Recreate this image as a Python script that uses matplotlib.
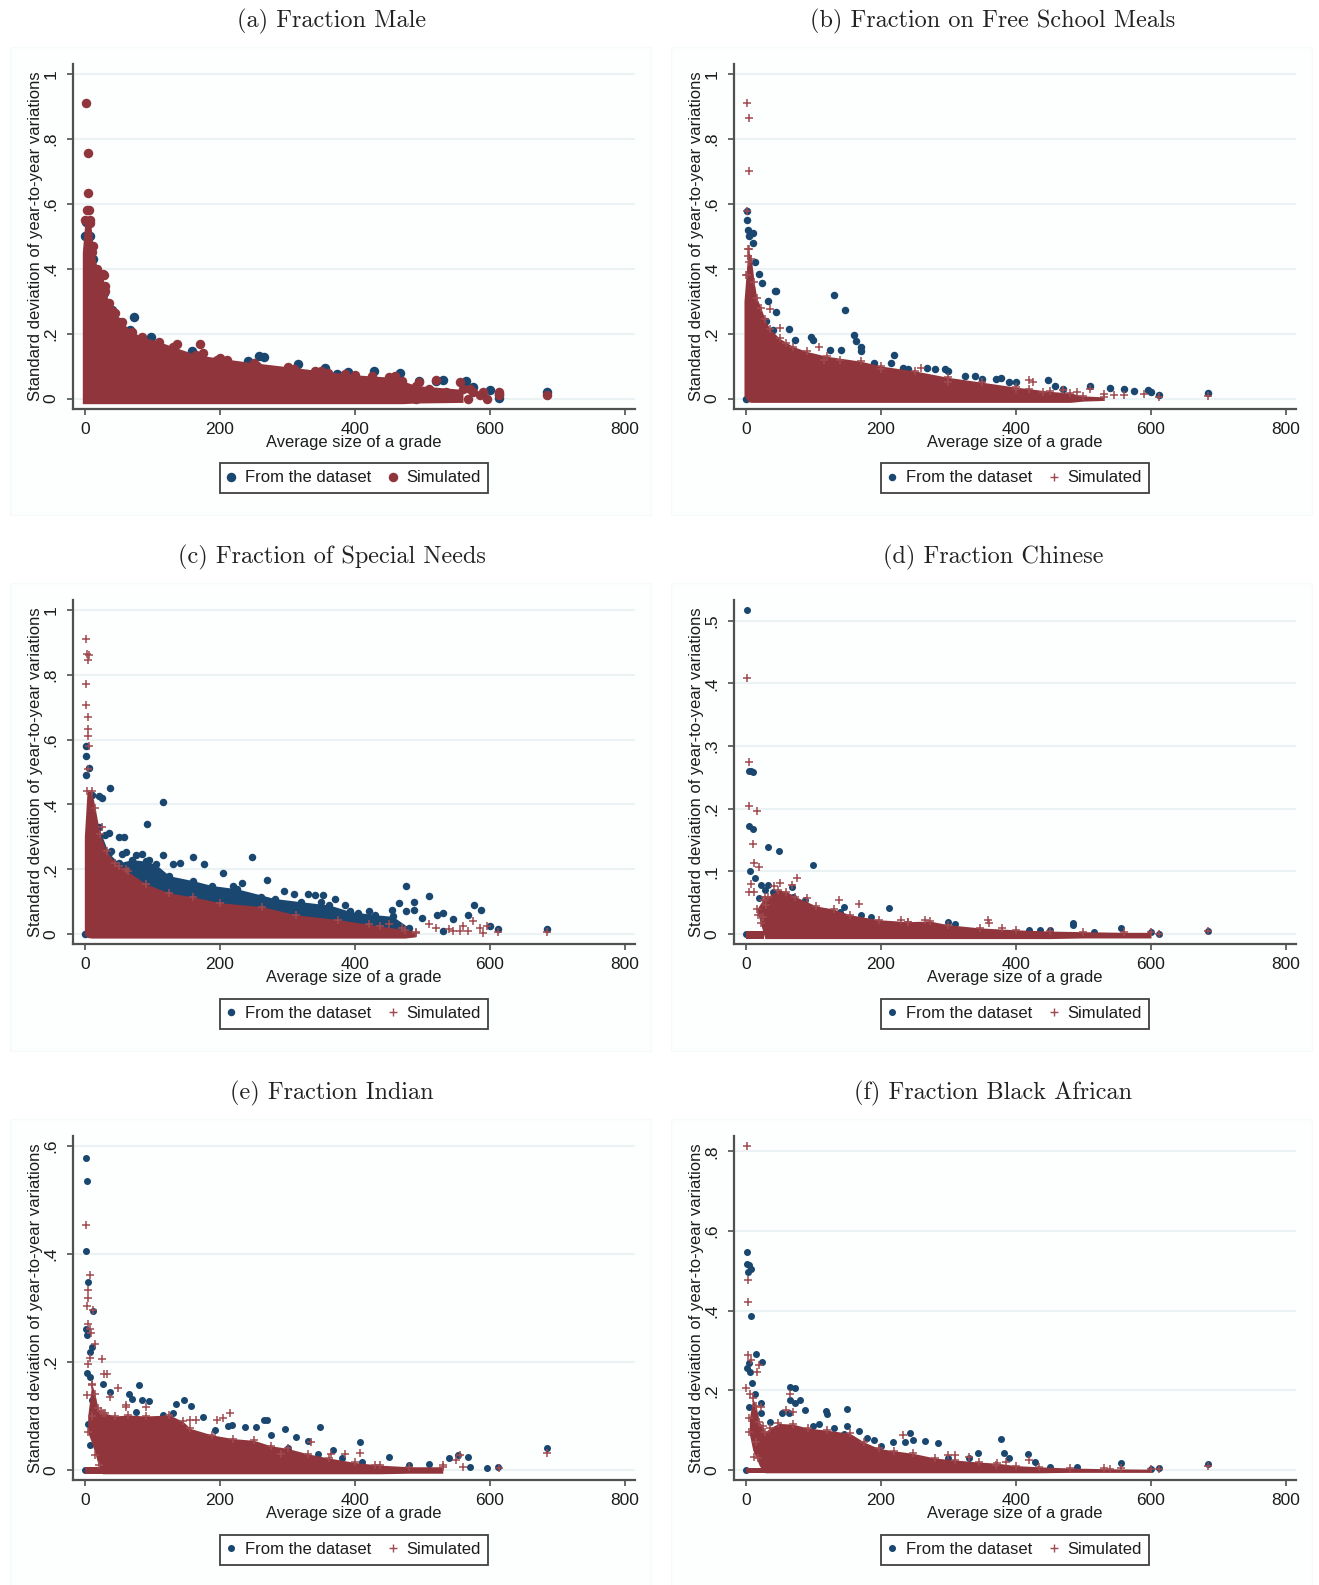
import matplotlib
matplotlib.use("Agg")
import matplotlib.pyplot as plt
from matplotlib.lines import Line2D
from matplotlib.patches import Rectangle

W, H = 1319, 1585
NAVY = "#1a476f"
MAROON = "#90353b"
GRID = "#eaf2f3"
plt.rcParams["font.family"] = ["Liberation Sans", "DejaVu Sans"]
plt.rcParams["axes.unicode_minus"] = False

titles = ["(a) Fraction Male", "(b) Fraction on Free School Meals", "(c) Fraction of Special Needs",
          "(d) Fraction Chinese", "(e) Fraction Indian", "(f) Fraction Black African"]
x_ticks = [0, 200, 400, 600, 800]
ticks_10 = [0, .2, .4, .6, .8, 1]
labels_10 = ["0", ".2", ".4", ".6", ".8", "1"]
ticks_d = [0, .1, .2, .3, .4, .5]
labels_d = ["0", ".1", ".2", ".3", ".4", ".5"]
ticks_e = [0, .2, .4, .6]
labels_e = ["0", ".2", ".4", ".6"]
ticks_f = [0, .2, .4, .6, .8]
labels_f = ["0", ".2", ".4", ".6", ".8"]

# (x, y)
a_blue = [(72,.25),(258,.131),(265,.127),(316,.107),(355,.094),(373,.074),(390,.082),(428,.086),(466,.078),
          (530,.057),(565,.054),(600,.027),(614,.003),(614,.015),(685,.02),(242,.117),(158,.146),(98,.19),
          (66,.21),(50,.237),(40,.273),(28,.324),(12,.43),(8,.50),(2,.545),(0,.5),(520,.055),(495,.055),(575,.035)]
a_red = [(2,.91),(4,.757),(4,.633),(3,.58),(6,.58),(137,.167),(170,.168),(175,.14),(10,.453),(7,.54),(28,.38),
         (30,.347),(40,.27),(196,.12),(210,.12),(255,.1),(310,.09),(340,.085),(360,.08),(385,.075),(425,.07),
         (460,.07),(495,.05),(520,.057),(555,.05),(570,.03),(590,.02),(614,.02),(685,.012),(614,.01),(568,0),
         (595,0),(490,0),(480,.02),(510,.03),(535,.02),(550,.01),(575,.02),(585,.01)]
# (x, top, bottom) of the solid part of the cloud
a_mass = [(-4,.45,-.016),(0,.55,-.016),(8,.55,-.016),(12,.47,-.016),(18,.40,-.016),(26,.385,-.016),(30,.33,-.016),
          (36,.295,-.016),(45,.265,-.016),(55,.235,-.016),(70,.205,-.016),(85,.19,-.016),(110,.175,-.016),
          (130,.16,-.016),(165,.135,-.016),(200,.124,-.016),(250,.11,-.016),(300,.098,-.016),(350,.085,-.016),
          (400,.073,-.016),(450,.066,-.016),(470,.055,-.016),(490,.04,-.014),(560,.028,-.012)]

b_blue = [(43,.332),(44,.33),(130,.32),(146,.273),(160,.195),(163,.177),(44,.267),(2,.577),(2,.55),(3,.52),(5,.5),
          (10,.51),(10,.48),(14,.42),(20,.384),(23,.355),(33,.30),(30,.24),(40,.21),(64,.213),(96,.19),(100,.18),
          (72,.18),(125,.15),(141,.148),(170,.145),(220,.135),(215,.11),(190,.11),(232,.095),(240,.09),(268,.094),
          (280,.09),(295,.09),(300,.085),(325,.068),(340,.068),(350,.06),(370,.06),(378,.062),(390,.05),(400,.05),
          (447,.057),(458,.04),(470,.03),(510,.037),(540,.033),(560,.028),(575,.022),(595,.025),(600,.02),(612,.012),
          (685,.016),(170,.16),(0,0)]
b_red = [(2,.91),(4,.865),(4,.70),(2,.577),(108,.158),(50,.217),(35,.275),(260,.093),(420,.057),(425,.05),(510,.03),
         (545,.01),(612,.005),(685,.008),(5,.46),(3,.44),(5,.42),(2,.38),(60,.17),(115,.12),(140,.12),(200,.09),
         (300,.05),(400,.03),(440,.02),(470,.025),(490,.02),(530,.015),(560,.01),(590,.015)]
b_mass = [(-3,.30,.01),(0,.38,.0),(3,.46,-.01),(8,.43,-.012),(12,.36,-.012),(16,.31,-.012),(22,.28,-.012),(28,.245,-.012),
          (35,.215,-.012),(50,.185,-.012),(70,.16,-.012),(90,.145,-.012),(120,.13,-.012),(170,.115,-.012),(200,.10,-.012),
          (250,.085,-.012),(300,.065,-.012),(350,.05,-.012),(400,.035,-.012),(420,.03,-.012),(450,.022,-.012),
          (480,.017,-.012),(500,.008,-.008),(530,.005,-.006)]

c_blue = [(37,.451),(116,.407),(92,.341),(35,.312),(50,.299),(58,.30),(247,.238),(476,.148),(510,.119),(577,.091),
          (586,.076),(488,.099),(270,.168),(205,.189),(177,.215),(160,.237),(140,.22),(130,.217),(115,.243),(85,.247),
          (60,.254),(55,.248),(75,.245),(95,.23),(2,.58),(1,.548),(6,.512),(1,.49),(20,.425),(10,.43),(25,.42),
          (30,.307),(38,.256),(295,.132),(310,.124),(330,.124),(340,.12),(352,.12),(370,.107),(385,.091),(420,.071),
          (405,.066),(465,.096),(455,.076),(475,.073),(488,.076),(530,.066),(522,.06),(568,.06),(545,.048),(600,.025),
          (612,.016),(685,.016),(500,.05),(530,.01),(232,.158),(220,.15),(300,.09),(260,.115),(350,.10),(250,.11),(0,0)]
c_red = [(2,.91),(3,.865),(6,.86),(5,.845),(2,.77),(2,.705),(5,.67),(4,.633),(4,.61),(6,.58),(4,.51),(25,.33),
         (50,.21),(60,.2),(490,.005),(510,.03),(575,.04),(560,.025),(595,.025),(585,.02),(612,.008),(685,.008),
         (520,.02),(545,.01),(555,.01),(568,.01),(590,.005),(540,.015),(470,.02),(420,.03),(450,.03)]
c_bluemass = [(20,.33),(35,.25),(50,.22),(70,.23),(90,.225),(105,.215),(125,.18),(160,.165),(188,.15),(225,.14),
              (281,.11),(320,.10),(362,.09),(393,.07),(430,.06),(456,.055),(480,.02)]
c_mass = [(-1,.3,.0),(3,.44,-.01),(10,.44,-.012),(15,.39,-.012),(22,.31,-.012),(32,.255,-.012),(45,.22,-.012),
          (63,.194,-.012),(90,.155,-.012),(125,.127,-.012),(160,.115,-.012),(200,.097,-.012),(262,.085,-.012),
          (312,.06,-.012),(375,.045,-.012),(437,.025,-.012),(474,.014,-.012),(490,.008,-.008)]

d_blue = [(1,.517),(5,.26),(7,.26),(11,.259),(4,.173),(10,.167),(33,.139),(49,.132),(100,.111),(6,.1),(14,.09),
          (22,.078),(32,.078),(40,.068),(68,.076),(70,.06),(88,.055),(20,.058),(212,.041),(145,.043),(140,.035),
          (170,.03),(185,.028),(300,.019),(310,.016),(484,.018),(485,.014),(555,.01),(0,0),(600,.004),(612,0),
          (685,.005),(420,.006),(435,.007),(450,.006),(515,.004),(28,.07)]
d_red = [(1,.408),(4,.274),(4,.204),(16,.196),(10,.144),(12,.114),(20,.107),(8,.08),(4,.067),(12,.068),(50,.082),
         (75,.09),(42,.077),(68,.078),(138,.055),(167,.048),(90,.057),(358,.023),(360,.018),(265,.023),(240,.02),
         (230,.022),(684,.005),(612,0),(16,.04),(22,.018),(380,.01),(18,.03),(25,.027),(30,.047)]
d_mass = [(16,.04,.038),(25,.055,.004),(28,.06,-.007),(32,.06,-.007),(48,.071,-.007),(60,.068,-.007),(73,.06,-.007),
          (104,.045,-.007),(130,.04,-.007),(154,.031,-.007),(197,.023,-.007),(240,.02,-.007),(272,.021,-.007),
          (300,.015,-.007),(347,.01,-.007),(400,.007,-.007),(450,.005,-.007),(500,.004,-.006),(560,.003,-.006),
          (600,.003,-.006)]
d_strip = 27

e_blue = [(1,.578),(3,.535),(2,.405),(5,.349),(12,.295),(1,.262),(3,.25),(10,.228),(8,.219),(3,.179),(8,.173),(26,.159),
          (80,.157),(37,.144),(65,.14),(70,.131),(85,.13),(95,.128),(135,.122),(147,.129),(157,.118),(175,.099),
          (115,.102),(130,.105),(75,.108),(297,.076),(348,.079),(270,.093),(265,.092),(218,.083),(212,.082),(193,.074),
          (237,.08),(253,.08),(408,.052),(312,.062),(330,.054),(275,.065),(368,.037),(450,.025),(410,.015),(540,.023),
          (552,.028),(567,.025),(685,.04),(510,.012),(345,.03),(480,.01),(612,.005),(5,.086),(8,.046),(0,0),(300,.04),
          (250,.045),(380,.022),(570,.005),(595,.003),(10,.13)]
e_red = [(1,.454),(7,.361),(4,.333),(5,.318),(3,.304),(12,.296),(5,.27),(8,.262),(9,.253),(15,.234),(25,.205),(8,.207),
         (4,.196),(28,.178),(32,.178),(49,.151),(37,.136),(10,.157),(3,.139),(215,.106),(195,.093),(205,.097),(685,.032),
         (408,.032),(335,.052),(165,.093),(155,.093),(60,.12),(90,.117),(60,.117),(555,.028),(550,.018),(613,.004),
         (10,.1),(5,.07),(15,.028),(20,.01),(385,.03),(365,.03),(290,.03),(430,.01),(530,.01),(560,.005)]
e_mass = [(4,.1,.07),(10,.16,.05),(15,.14,.03),(19,.115,.012),(23,.11,.002),(26,.105,-.007),(30,.105,-.007),(45,.10,-.007),
          (63,.102,-.007),(90,.10,-.007),(125,.102,-.007),(145,.09,-.007),(156,.077,-.007),(188,.065,-.007),(220,.058,-.007),
          (250,.055,-.007),(275,.045,-.007),(300,.04,-.007),(330,.03,-.007),(362,.022,-.007),(400,.014,-.007),
          (437,.009,-.007),(480,.006,-.006),(530,.006,-.006)]
e_strip = 27

f_blue = [(1,.547),(1,.517),(5,.515),(3,.498),(7,.505),(8,.387),(15,.291),(23,.27),(4,.268),(2,.255),(6,.247),(9,.218),
          (65,.209),(72,.207),(14,.192),(22,.167),(5,.159),(65,.176),(80,.176),(72,.167),(88,.15),(53,.144),(63,.142),
          (118,.148),(120,.14),(149,.153),(22,.142),(35,.121),(150,.111),(168,.098),(180,.081),(190,.075),(243,.092),
          (235,.071),(247,.075),(265,.074),(285,.067),(218,.071),(378,.077),(382,.042),(390,.029),(343,.042),(418,.04),
          (428,.021),(555,.018),(685,.014),(612,.004),(0,0),(200,.06),(100,.11),(330,.03),(300,.03),(450,.008),(490,.008),
          (600,.002),(108,.115),(130,.105),(145,.09)]
f_red = [(1,.813),(3,.478),(3,.421),(3,.289),(16,.247),(20,.264),(8,.276),(0,.205),(6,.192),(22,.157),(5,.13),(65,.192),
         (233,.088),(685,.01),(612,.003),(420,.025),(385,.021),(310,.037),(300,.037),(330,.033),(12,.033),(18,.029),
         (5,.096),(15,.07),(60,.15),(70,.146),(370,.012),(530,.006),(555,.005)]
f_mass = [(5,.13,.09),(10,.18,.05),(15,.16,.03),(20,.12,.01),(25,.11,.0),(28,.095,-.007),(35,.105,-.007),(48,.117,-.007),
          (70,.115,-.007),(92,.105,-.007),(120,.10,-.007),(154,.092,-.007),(175,.07,-.007),(197,.054,-.007),(220,.048,-.007),
          (247,.042,-.007),(280,.03,-.007),(310,.025,-.007),(345,.02,-.007),(372,.017,-.007),(400,.011,-.007),
          (434,.008,-.007),(480,.005,-.006),(540,.003,-.006),(600,.002,-.006)]
f_strip = 28

def px(v):
    # pixels to points at dpi 100
    return v * 0.72

def panel(fig, col, row_shift, tick_px, ticks, labels, title, blue, red, mass, dot_px, plus, strip=None, bluemass=None):
    l = 73 + col
    x0 = 85 + col
    x800 = 625 + col
    r = 635 + col
    top = 64 + row_shift
    y0 = 398.5 + row_shift
    bot = 408.5 + row_shift

    fig.patches.append(Rectangle((10 / W + col / W, 1 - (515 + row_shift) / H), 641 / W, 468 / H,
                                 transform=fig.transFigure, fc="#fdfefe", ec="#f7fafa", lw=1, zorder=-1))
    ax = fig.add_axes([l / W, 1 - bot / H, (r - l) / W, (bot - top) / H])
    ax.patch.set_alpha(0)
    k = (x800 - x0) / 800
    ax.set_xlim((l - x0) / k, (r - x0) / k)
    ky = (398.5 - tick_px) / ticks[-1]
    ax.set_ylim((y0 - bot) / ky, (y0 - top) / ky)

    for s in ["top", "right"]:
        ax.spines[s].set_visible(False)
    for s in ["left", "bottom"]:
        ax.spines[s].set_linewidth(1.6)
        ax.spines[s].set_color("#505050")
    ax.set_xticks(x_ticks)
    ax.set_yticks(ticks)
    ax.set_yticklabels(labels, rotation=90, va="center")
    ax.tick_params(length=4.5, width=1.2, color="#505050", labelsize=12.5, labelcolor="#1c1c1c")
    ax.tick_params(axis="x", pad=5)
    ax.tick_params(axis="y", pad=6)
    ax.grid(axis="y", color=GRID, lw=1.5)
    ax.set_axisbelow(True)
    ax.set_xlabel("Average size of a grade", fontsize=11.9, color="#1c1c1c", labelpad=-1.5)
    ax.set_ylabel("Standard deviation of year-to-year variations", fontsize=12, color="#1c1c1c", labelpad=0)

    if bluemass:
        bx, bt = zip(*bluemass)
        ax.fill_between(bx, -.005, bt, color=NAVY, lw=0, zorder=2)
        ax.scatter(bx, bt, s=px(dot_px) ** 2, color=NAVY, lw=0, zorder=2)
    bx, by = zip(*blue)
    ax.scatter(bx, by, s=px(dot_px) ** 2, color=NAVY, lw=0, zorder=2, clip_on=False)

    mx, mt, ml = zip(*mass)
    ax.fill_between(mx, ml, mt, color=MAROON, lw=0, zorder=3)
    if strip:
        ax.fill_between([0, strip], -.007, .005, color=MAROON, lw=0, zorder=3)
    rx, ry = zip(*red)
    # first vertex of a cloud is its left edge, no marker there
    if plus:
        ax.scatter(rx, ry, s=px(8.5) ** 2, marker="+", color="#a04a50", lw=1.1, zorder=3, clip_on=False)
        ax.scatter(mx[1:], mt[1:], s=px(8.5) ** 2, marker="+", color="#a04a50", lw=1.1, zorder=3)
    else:
        ax.scatter(rx, ry, s=px(dot_px) ** 2, color=MAROON, lw=0, zorder=3, clip_on=False)
        ax.scatter(mx[1:], mt[1:], s=px(dot_px) ** 2, color=MAROON, lw=0, zorder=3)

    fig.text((332 + col) / W, 1 - (21.5 + row_shift) / H, title, family="cmr10", fontsize=17.5,
             ha="center", va="center", color="#222222")

    h1 = Line2D([], [], ls="", marker="o", ms=px(dot_px), mfc=NAVY, mec=NAVY, mew=0)
    if plus:
        h2 = Line2D([], [], ls="", marker="+", ms=px(8), color="#a04a50", mew=1.0)
    else:
        h2 = Line2D([], [], ls="", marker="o", ms=px(dot_px), mfc=MAROON, mec=MAROON, mew=0)
    leg = fig.legend([h1, h2], ["From the dataset", "Simulated"], ncol=2, loc="center",
                     bbox_to_anchor=((354 + col) / W, 1 - (478 + row_shift) / H), fontsize=12,
                     frameon=True, fancybox=False, edgecolor="#404040", framealpha=1, handlelength=0.5,
                     handletextpad=0.55, columnspacing=1.1, borderpad=0.45, labelcolor="#1c1c1c")
    leg.get_frame().set_linewidth(1.3)
    return ax


fig = plt.figure(figsize=(W / 100, H / 100), dpi=100)
panel(fig, 0, 0, 74, ticks_10, labels_10, titles[0], a_blue, a_red, a_mass, 9.5, False)
panel(fig, 661, 0, 74, ticks_10, labels_10, titles[1], b_blue, b_red, b_mass, 7.5, True)
panel(fig, 0, 535.7, 74, ticks_10, labels_10, titles[2], c_blue, c_red, c_mass, 7.5, True, bluemass=c_bluemass)
panel(fig, 661, 535.7, 84.9, ticks_d, labels_d, titles[3], d_blue, d_red, d_mass, 7, True, strip=d_strip)
panel(fig, 0, 1071.5, 74.5, ticks_e, labels_e, titles[4], e_blue, e_red, e_mass, 7, True, strip=e_strip)
panel(fig, 661, 1071.5, 79.8, ticks_f, labels_f, titles[5], f_blue, f_red, f_mass, 7, True, strip=f_strip)
fig.savefig("out.png", dpi=100)
